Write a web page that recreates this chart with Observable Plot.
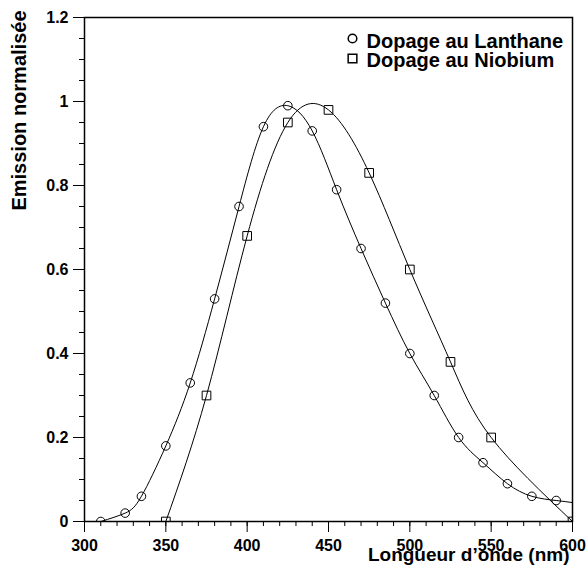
<!DOCTYPE html>
<html><head><meta charset="utf-8">
<script src="https://cdn.jsdelivr.net/npm/d3@7"></script>
<script src="https://cdn.jsdelivr.net/npm/@observablehq/plot@0.6"></script>
<style>
body{margin:0;background:#fff;}
#chart svg{font-family:"Liberation Sans",Arial,sans-serif;font-weight:bold;}
</style></head><body><div id="chart"></div>
<script>
const lanthaneX = [310,325,335,350,365,380,395,410,425,440,455,470,485,500,515,530,545,560,575,590];
const lanthaneY = [0,0.02,0.06,0.18,0.33,0.53,0.75,0.94,0.99,0.93,0.79,0.65,0.52,0.40,0.30,0.20,0.14,0.09,0.06,0.05];
const lanthaneTailX = [600];
const lanthaneTailY = [0.045];
const niobiumX = [350,375,400,425,450,475,500,525,550,600];
const niobiumY = [0,0.30,0.68,0.95,0.98,0.83,0.60,0.38,0.20,0];
const seriesNames = ["Dopage au Lanthane","Dopage au Niobium"];
const xMajorTicks = [300,350,400,450,500,550,600];
const xMinorTicks = [300,310,320,330,340,350,360,370,380,390,400,410,420,430,440,450,460,470,480,490,500,510,520,530,540,550,560,570,580,590,600];
const yMajorTicks = [0,0.2,0.4,0.6,0.8,1,1.2];
const yMinorTicks = [0,0.05,0.1,0.15,0.2,0.25,0.3,0.35,0.4,0.45,0.5,0.55,0.6,0.65,0.7,0.75,0.8,0.85,0.9,0.95,1,1.05,1.1,1.15,1.2];
const xTitle = "Longueur d’onde (nm)";
const yTitle = "Emission normalisée";

const lanthane = lanthaneX.map((x,i)=>({x, y: lanthaneY[i]}));
const lanthaneLine = lanthane.concat(lanthaneTailX.map((x,i)=>({x, y: lanthaneTailY[i]})));
const niobium = niobiumX.map((x,i)=>({x, y: niobiumY[i]}));

const chart = Plot.plot({
  width: 587, height: 578,
  marginLeft: 84, marginRight: 15, marginTop: 17, marginBottom: 57,
  style: {fontFamily: "'Liberation Sans', Arial, sans-serif", fontWeight: "bold", fontSize: "16px", color: "black", background: "white"},
  x: {domain: [300, 600]},
  y: {domain: [0, 1.2]},
  marks: [
    Plot.axisX({ticks: xMinorTicks, tickSize: 5, tickFormat: () => "", label: null}),
    Plot.axisX({ticks: xMajorTicks, tickSize: 11, tickPadding: 7, label: null, tickFormat: d => String(d), fontSize: 16}),
    Plot.axisY({ticks: yMinorTicks, tickSize: 5, tickFormat: () => "", label: null}),
    Plot.axisY({ticks: yMajorTicks, tickSize: 11, tickPadding: 5, label: null, tickFormat: d => String(d), fontSize: 16}),
    Plot.line(lanthaneLine, {x: "x", y: "y", curve: "natural", stroke: "black", strokeWidth: 1, clip: true}),
    Plot.line(niobium, {x: "x", y: "y", curve: "natural", stroke: "black", strokeWidth: 1, clip: true}),
    Plot.dot(lanthane, {x: "x", y: "y", symbol: "circle", r: 4.3, stroke: "black", fill: "none", strokeWidth: 1, clip: true}),
    Plot.dot(niobium, {x: "x", y: "y", symbol: "square", r: 4.9, stroke: "black", fill: "none", strokeWidth: 1, clip: true}),
    Plot.frame({stroke: "black", strokeWidth: 1.5}),
    Plot.dot([seriesNames[0]], {frameAnchor: "top-right", dx: -220, dy: 21, symbol: "circle", r: 4.3, stroke: "black", fill: "none"}),
    Plot.dot([seriesNames[1]], {frameAnchor: "top-right", dx: -220, dy: 41, symbol: "square", r: 4.9, stroke: "black", fill: "none"}),
    Plot.text([seriesNames[0]], {frameAnchor: "top-right", lineAnchor: "middle", dx: -206, dy: 24.3, textAnchor: "start", text: d => d, fontSize: 20, fontWeight: "bold", fill: "black"}),
    Plot.text([seriesNames[1]], {frameAnchor: "top-right", lineAnchor: "middle", dx: -206, dy: 43.3, textAnchor: "start", text: d => d, fontSize: 20, fontWeight: "bold", fill: "black"}),
    Plot.text([xTitle], {frameAnchor: "bottom-right", lineAnchor: "middle", dx: -3, dy: 33.9, textAnchor: "end", text: d => d, fontSize: 19, fontWeight: "bold", fill: "black"}),
    Plot.text([yTitle], {frameAnchor: "top-left", lineAnchor: "middle", dx: -65.4, dy: -7, rotate: -90, textAnchor: "end", text: d => d, fontSize: 20, fontWeight: "bold", fill: "black"})
  ]
});
document.getElementById("chart").appendChild(chart);
</script></body></html>
